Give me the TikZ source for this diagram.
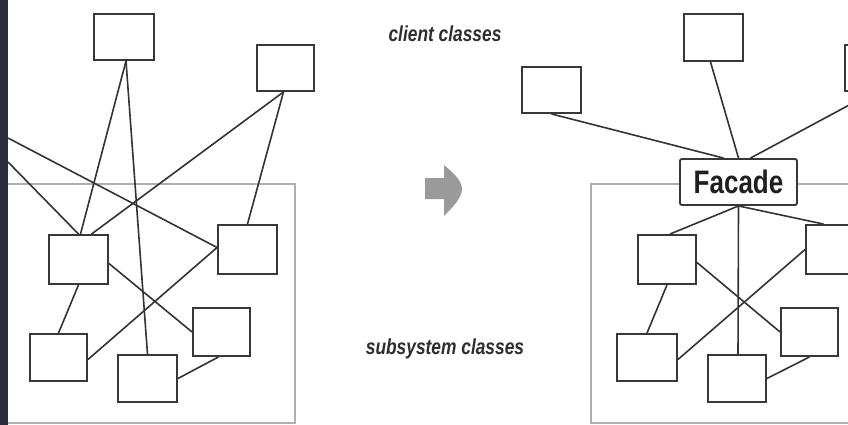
\documentclass[tikz,border=0pt]{standalone}
\usepackage{fontspec}
\usepackage{graphicx}
\setsansfont{Liberation Sans}
\definecolor{strip}{HTML}{2A2C3A}
\definecolor{ink}{HTML}{2E2E2E}
\definecolor{frame}{HTML}{B0B0B0}
\definecolor{arrowgray}{HTML}{9A9A9A}
\tikzset{
  cls/.style={draw=black!78, line width=1.9pt, fill=white, inner sep=0pt,
    minimum width=58pt, minimum height=47pt},
  link/.style={draw=black!80, line width=1.6pt},
  region/.style={draw=frame, line width=1.5pt},
  caption/.style={text=ink, font=\sffamily\bfseries\itshape\fontsize{21.7}{26}\selectfont, anchor=base, inner sep=0pt},
}
\begin{document}
\begin{tikzpicture}[x=1pt,y=-1pt]
\useasboundingbox (0,0) rectangle (848,425);
\clip (0,0) rectangle (848,425);
\fill[white] (0,0) rectangle (848,425);

% subsystem regions
\draw[region] (3,184) rectangle (295,423);
\draw[region] (591,184) rectangle (885,423);

% captions
\node[caption] (client) at (445,42) {\scalebox{0.8}[1]{client classes}};
\node[caption] (subsys) at (445,354) {\scalebox{0.8}[1]{subsystem classes}};

% transition arrow
\fill[arrowgray] (425,178) -- (444,178) -- (444,165)
  .. controls (452,172) and (462,180) .. (462,189)
  .. controls (462,198) and (452,208) .. (444,216)
  -- (444,199) -- (425,199) -- cycle;

% ---- without facade ----
\coordinate (lc1) at (8,138);
\coordinate (lc2) at (8,162);
\node[cls, minimum width=60pt, minimum height=46pt] (A) at (124,37) {};
\node[cls, minimum width=57pt, minimum height=46pt] (B) at (285.5,68) {};
\node[cls, minimum width=59pt, minimum height=49pt] (C) at (78.5,259.5) {};
\node[cls, minimum width=57pt, minimum height=47pt] (D) at (58.5,357.5) {};
\node[cls, minimum width=59pt, minimum height=49pt] (E) at (247.5,249.5) {};
\node[cls, minimum width=59pt, minimum height=47pt] (F) at (147.5,378.5) {};
\node[cls, minimum width=57pt, minimum height=48pt] (G) at (221.5,332) {};

\draw[link] (lc1) -- ([yshift=2pt]E.west);
\draw[link] (lc2) -- (C.north);
\draw[link] ([xshift=2pt]A.south) -- ([xshift=2pt]C.north);
\draw[link] ([xshift=2pt]A.south) -- (F.north);
\draw[link] ([xshift=-2pt]B.south) -- ([xshift=13pt]C.north);
\draw[link] ([xshift=-2pt]B.south) -- (E.north);
\draw[link] ([yshift=-4pt]C.east) -- (G.west);
\draw[link] (C.south) -- (D.north);
\draw[link] ([yshift=-2pt]D.east) -- ([yshift=2pt]E.west);
\draw[link] ([xshift=-3pt]G.south) -- (F.east);

% ---- with facade ----
\node[cls, minimum width=59pt, minimum height=46pt] (H) at (551.5,90) {};
\node[cls, minimum width=59pt, minimum height=47pt] (I) at (713.5,37.5) {};
\node[cls, minimum width=57pt, minimum height=46pt] (J) at (873.5,68) {};
\node[cls, minimum width=58pt, minimum height=49pt] (Cp) at (667,259.5) {};
\node[cls, minimum width=60pt, minimum height=47pt] (Dp) at (647,357.5) {};
\node[cls, minimum width=59pt, minimum height=49pt] (Ep) at (835.5,249.5) {};
\node[cls, minimum width=58pt, minimum height=47pt] (Fp) at (737,378.5) {};
\node[cls, minimum width=57pt, minimum height=48pt] (Gp) at (809.5,332) {};
\node[cls, rounded corners=2pt, minimum width=117pt, minimum height=46pt,
  text=black!88, font=\sffamily\bfseries\fontsize{32.5}{36}\selectfont]
  (Fa) at (738.5,182) {\scalebox{0.8}[1]{Facade}};

\draw[link] (H.south) -- ([xshift=-15pt]Fa.north);
\draw[link] ([xshift=-3pt]I.south) -- (Fa.north);
\draw[link] (J.south) -- ([xshift=12pt]Fa.north);
\draw[link] (Fa.south) -- ([xshift=3pt]Cp.north);
\draw[link] (Fa.south) -- ([xshift=-12pt]Ep.north);
\draw[link] (Fa.south) -- ([xshift=1pt]Fp.north);
\draw[link] ([yshift=-3pt]Cp.east) -- (Gp.west);
\draw[link] (Cp.south) -- (Dp.north);
\draw[link] ([yshift=-2pt]Dp.east) -- (Ep.west);
\draw[link] (Gp.south) -- (Fp.east);

% dark page edge
\fill[strip] (0,0) rectangle (8,425);
\end{tikzpicture}
\end{document}
